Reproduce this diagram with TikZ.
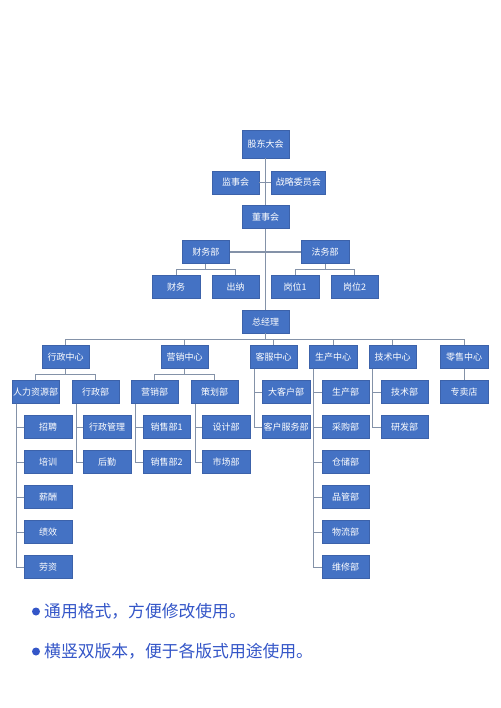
\documentclass[tikz,border=0pt]{standalone}
\usepackage{fontspec}
\newfontfamily\cjk{Noto Sans CJK SC}
\usepackage{tikz}
\definecolor{boxblue}{RGB}{68,114,196}
\definecolor{boxedge}{RGB}{60,98,170}
\definecolor{linegray}{RGB}{132,146,168}
\definecolor{noteblue}{RGB}{52,86,200}
\tikzstyle{unit} = [rectangle,draw=boxedge,fill=boxblue,text=white,minimum width=47.5pt,minimum height=23pt,inner sep=0pt,font=\cjk\fontsize{9}{10}\selectfont]
\tikzstyle{wide} = [unit,minimum width=54.5pt]
\tikzstyle{top} = [unit,minimum height=28pt]
\tikzstyle{link} = [draw=linegray,line width=1pt]
\tikzstyle{note} = [anchor=west,inner sep=0pt,text=noteblue,font=\cjk\fontsize{16.8}{18}\selectfont]

\begin{document}
\begin{tikzpicture}[x=1pt,y=-1pt]
\useasboundingbox[fill=white] (0,0) rectangle (500,708);
% upper board
\node[top] (gd) at (265.5,144) {股东大会};
\node[unit] (js) at (235.5,182.3) {监事会};
\node[wide] (zl) at (298.3,182.3) {战略委员会};
\node[unit] (ds) at (265.5,217) {董事会};
\node[unit] (cwb) at (205.8,252) {财务部};
\node[unit] (fwb) at (325,252) {法务部};
\node[unit] (cw) at (176,286.7) {财务};
\node[unit] (cn) at (235.5,286.7) {出纳};
\node[unit] (gw1) at (295,286.7) {岗位1};
\node[unit] (gw2) at (354.5,286.7) {岗位2};
\node[unit] (zjl) at (265.5,321.7) {总经理};
% centres
\node[unit] (xzzx) at (65.5,357) {行政中心};
\node[unit] (yxzx) at (184.7,357) {营销中心};
\node[unit] (kfzx) at (273.7,357) {客服中心};
\node[unit] (sczx) at (333,357) {生产中心};
\node[unit] (jszx) at (392.5,357) {技术中心};
\node[unit] (lszx) at (464.2,357) {零售中心};
% departments
\node[unit] (rl) at (35.5,392) {人力资源部};
\node[unit] (xzb) at (95.5,392) {行政部};
\node[unit] (yxb) at (154.7,392) {营销部};
\node[unit] (chb) at (214.5,392) {策划部};
\node[unit] (dkh) at (286,392) {大客户部};
\node[unit] (kff) at (286,427) {客户服务部};
\node[unit] (scb) at (345.5,392) {生产部};
\node[unit] (cgb) at (345.5,427) {采购部};
\node[unit] (ccb) at (345.5,462) {仓储部};
\node[unit] (pgb) at (345.5,497) {品管部};
\node[unit] (wlb) at (345.5,532) {物流部};
\node[unit] (wxb) at (345.5,567) {维修部};
\node[unit] (jsb) at (404.5,392) {技术部};
\node[unit] (yfb) at (404.5,427) {研发部};
\node[unit] (zmd) at (464.2,392) {专卖店};
\node[unit] (zp) at (48,427) {招聘};
\node[unit] (px) at (48,462) {培训};
\node[unit] (xc) at (48,497) {薪酬};
\node[unit] (jx) at (48,532) {绩效};
\node[unit] (lz) at (48,567) {劳资};
\node[unit] (xzgl) at (107.2,427) {行政管理};
\node[unit] (hq) at (107.2,462) {后勤};
\node[unit] (xs1) at (166.7,427) {销售部1};
\node[unit] (xs2) at (166.7,462) {销售部2};
\node[unit] (sj) at (226.2,427) {设计部};
\node[unit] (sc) at (226.2,462) {市场部};

% connectors
\path[link] (gd) -- (ds);
\path[link] (ds) -- (zjl);
\path[link] (js) -- (zl);
\path[link] (cwb) -- (fwb);
\foreach \c in {cw,cn} \path[link] (cwb.south) -- ++(0,5.5) -| (\c.north);
\foreach \c in {gw1,gw2} \path[link] (fwb.south) -- ++(0,5.5) -| (\c.north);
\foreach \c in {xzzx,yxzx,kfzx,sczx,jszx,lszx} \path[link] (zjl.south) -- ++(0,6) -| (\c.north);
\foreach \c in {rl,xzb} \path[link] (xzzx.south) -- ++(0,6) -| (\c.north);
\foreach \c in {yxb,chb} \path[link] (yxzx.south) -- ++(0,6) -| (\c.north);
\path[link] (lszx) -- (zmd);
\foreach \c in {zp,px,xc,jx,lz} \path[link] ([xshift=5pt]rl.south west) |- (\c.west);
\foreach \c in {xzgl,hq} \path[link] ([xshift=4.5pt]xzb.south west) |- (\c.west);
\foreach \c in {xs1,xs2} \path[link] ([xshift=5pt]yxb.south west) |- (\c.west);
\foreach \c in {sj,sc} \path[link] ([xshift=4.5pt]chb.south west) |- (\c.west);
\foreach \c in {dkh,kff} \path[link] ([xshift=4.5pt]kfzx.south west) |- (\c.west);
\foreach \c in {scb,cgb,ccb,pgb,wlb,wxb} \path[link] ([xshift=4.5pt]sczx.south west) |- (\c.west);
\foreach \c in {jsb,yfb} \path[link] ([xshift=4pt]jszx.south west) |- (\c.west);

% notes
\fill[noteblue] (36,611.5) circle (4);
\node[note] (n1) at (44,611.5) {通用格式，方便修改使用。};
\fill[noteblue] (36,651.5) circle (4);
\node[note] (n2) at (44,651.5) {横竖双版本，便于各版式用途使用。};
\end{tikzpicture}
\end{document}
